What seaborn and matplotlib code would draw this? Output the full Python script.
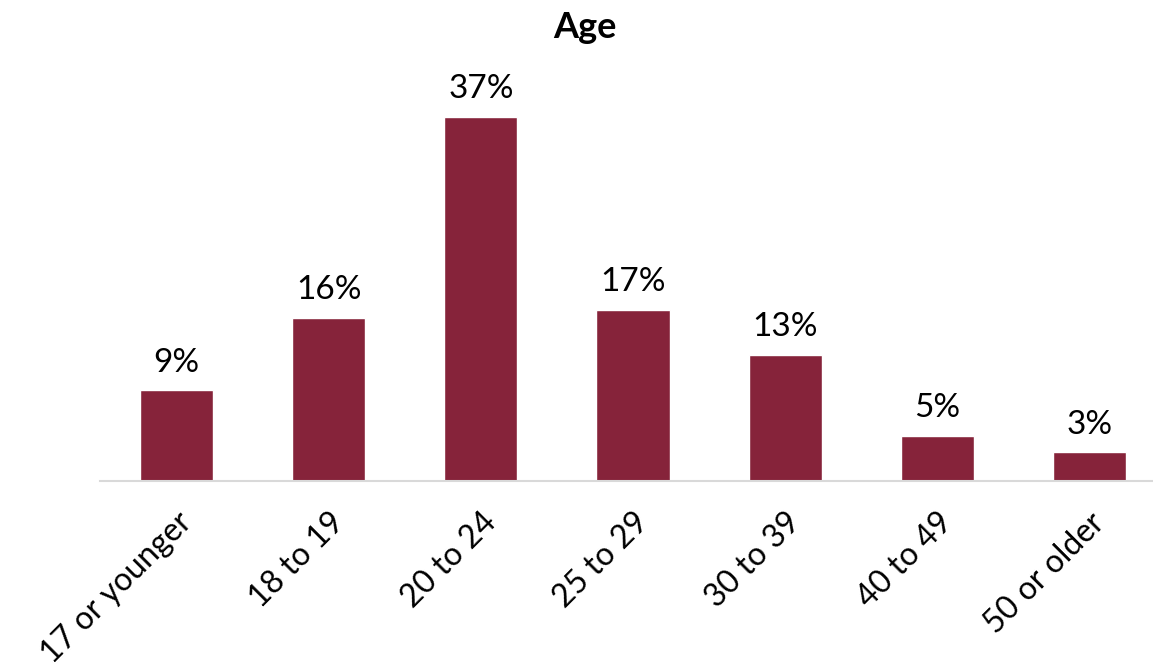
import matplotlib
matplotlib.use('Agg')
import matplotlib.pyplot as plt
import seaborn as sns
import pandas as pd

# Veriler
categories = ["17 or younger", "18 to 19", "20 to 24", "25 to 29", "30 to 39", "40 to 49", "50 or older"]
values = [9.2, 16.6, 37.0, 17.4, 12.8, 4.6, 2.9]
bar_labels = ["9%", "16%", "37%", "17%", "13%", "5%", "3%"]

sns.set_theme(style="white")
plt.rcParams['font.family'] = ['Lato', 'DejaVu Sans']

df = pd.DataFrame({"age": categories, "share": values})

fig = plt.figure(figsize=(11.53, 6.70), dpi=100)
ax = fig.add_axes([100.5 / 1153, 189 / 670, 1065 / 1153, 393.6 / 670])

sns.barplot(data=df, x="age", y="share", color="#86233A", width=0.48,
            saturation=1, ax=ax)

for i, lab in enumerate(bar_labels):
    ax.text(i, values[i] + 1.3, lab, ha='center', va='bottom', fontsize=24, color='black')

ax.set_xlim(-0.5, 6.5)
ax.set_ylim(0, 40)
ax.set_xlabel("")
ax.set_ylabel("")
ax.set_yticks([])
ax.tick_params(axis='x', length=0, pad=19, colors='black')
ax.set_xticks(range(len(categories)))
ax.set_xticklabels(categories, rotation=45, ha='right', rotation_mode='anchor', fontsize=23)

for side in ['top', 'right', 'left']:
    ax.spines[side].set_visible(False)
ax.spines['bottom'].set_color('#d9d9d9')
ax.spines['bottom'].set_linewidth(1.5)

fig.text(585 / 1153, 1 - 27 / 670, "Age", ha='center', va='center', fontsize=26,
         fontweight='bold', color='black')

fig.savefig("out.png", dpi=100)
